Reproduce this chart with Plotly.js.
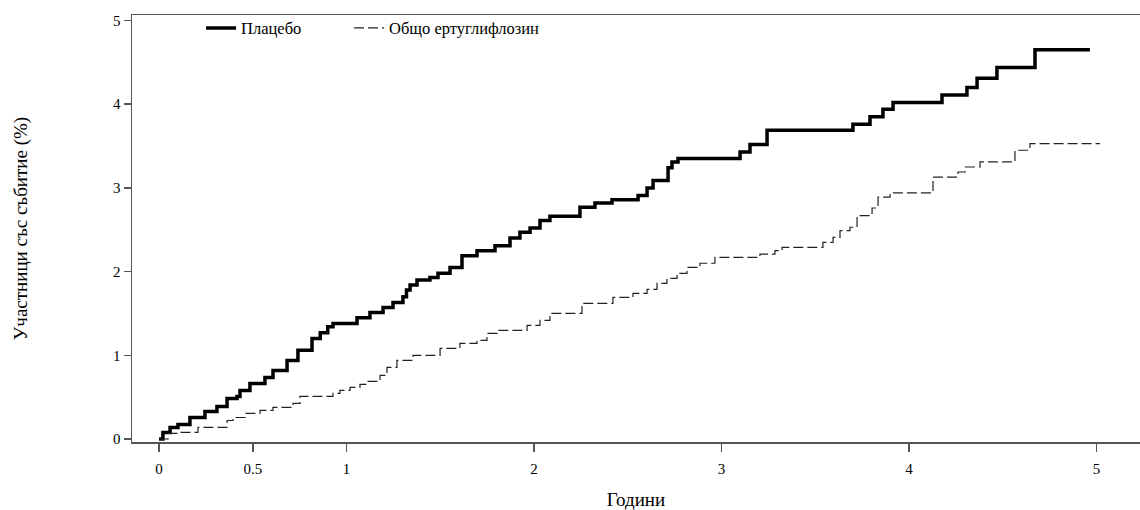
<!DOCTYPE html>
<html>
<head>
<meta charset="utf-8">
<script src="https://cdn.plot.ly/plotly-3.0.1.min.js"></script>
<style>html,body{margin:0;padding:0;background:#fff;}#chart{width:1140px;height:510px;}</style>
</head>
<body>
<div id="chart"></div>
<script>
// Placebo: step times (years) and cumulative % with event
var placeboT = [0, 0.021, 0.059, 0.101, 0.165, 0.245, 0.309, 0.363, 0.416, 0.432, 0.485, 0.565, 0.608, 0.683, 0.741, 0.816, 0.86, 0.90, 0.928, 1.056, 1.125, 1.195, 1.248, 1.301, 1.32, 1.339, 1.376, 1.445, 1.488, 1.552, 1.616, 1.696, 1.792, 1.872, 1.925, 1.979, 2.032, 2.085, 2.245, 2.325, 2.416, 2.555, 2.603, 2.635, 2.715, 2.736, 2.768, 3.099, 3.152, 3.243, 3.701, 3.792, 3.861, 3.915, 4.176, 4.309, 4.363, 4.469, 4.672, 4.965];
var placeboY = [0, 0.078, 0.138, 0.173, 0.257, 0.329, 0.389, 0.484, 0.508, 0.58, 0.664, 0.736, 0.819, 0.939, 1.059, 1.202, 1.27, 1.34, 1.38, 1.45, 1.51, 1.57, 1.63, 1.70, 1.78, 1.84, 1.90, 1.93, 1.98, 2.05, 2.19, 2.25, 2.31, 2.40, 2.47, 2.52, 2.61, 2.66, 2.77, 2.82, 2.86, 2.91, 3.00, 3.09, 3.24, 3.31, 3.35, 3.43, 3.52, 3.69, 3.76, 3.85, 3.94, 4.02, 4.11, 4.20, 4.31, 4.44, 4.65, 4.65];

// Total ertugliflozin
var ertT = [0, 0.048, 0.112, 0.208, 0.363, 0.395, 0.459, 0.539, 0.608, 0.715, 0.752, 0.928, 0.965, 1.019, 1.072, 1.115, 1.179, 1.216, 1.269, 1.355, 1.499, 1.605, 1.696, 1.749, 1.803, 1.963, 2.032, 2.085, 2.256, 2.421, 2.528, 2.603, 2.656, 2.709, 2.763, 2.816, 2.885, 2.965, 3.205, 3.285, 3.323, 3.541, 3.595, 3.632, 3.685, 3.723, 3.803, 3.835, 3.899, 4.128, 4.261, 4.299, 4.379, 4.565, 4.645, 5.019];
var ertY = [0, 0.066, 0.078, 0.138, 0.221, 0.257, 0.305, 0.341, 0.377, 0.425, 0.508, 0.544, 0.58, 0.616, 0.652, 0.688, 0.76, 0.855, 0.939, 0.999, 1.083, 1.142, 1.178, 1.262, 1.298, 1.358, 1.417, 1.501, 1.621, 1.693, 1.74, 1.788, 1.86, 1.92, 1.98, 2.05, 2.10, 2.17, 2.21, 2.25, 2.29, 2.35, 2.41, 2.49, 2.53, 2.67, 2.76, 2.89, 2.94, 3.13, 3.19, 3.25, 3.31, 3.45, 3.53, 3.53];

var seriesNames = ["Плацебо", "Общо ертуглифлозин"];
var xTickVals = [0, 0.5, 1, 2, 3, 4, 5];
var xTickText = ["0", "0.5", "1", "2", "3", "4", "5"];
var yTickVals = [0, 1, 2, 3, 4, 5];
var xTitle = "Години";
var yTitle = "Участници със събитие (%)";

var fontFam = "Liberation Serif, Times New Roman, serif";

var traces = [
  {x: placeboT, y: placeboY, type: "scatter", mode: "lines", name: seriesNames[0],
   legend: "legend",
   line: {shape: "hv", color: "#000000", width: 3.5}},
  {x: ertT, y: ertY, type: "scatter", mode: "lines", name: seriesNames[1],
   legend: "legend2",
   line: {shape: "hv", color: "#222222", width: 1.2, dash: "10px,4px"}}
];

var legendFont = {family: fontFam, size: 16.5, color: "#000"};

var layout = {
  width: 1140, height: 510,
  margin: {l: 132, r: 0, t: 15, b: 68},
  paper_bgcolor: "#ffffff", plot_bgcolor: "#ffffff",
  font: {family: fontFam, size: 15, color: "#000000"},
  showlegend: true,
  legend: {orientation: "h", x: 0.0685, y: 1.01, xanchor: "left", yanchor: "top",
           bgcolor: "rgba(0,0,0,0)", font: legendFont, itemclick: false},
  legend2: {orientation: "h", x: 0.2153, y: 1.01, xanchor: "left", yanchor: "top",
           bgcolor: "rgba(0,0,0,0)", font: legendFont, itemclick: false},
  xaxis: {
    range: [-0.144, 5.232], tickvals: xTickVals, ticktext: xTickText,
    showgrid: false, zeroline: false, showline: true, mirror: true,
    linecolor: "#555555", linewidth: 1.5,
    ticks: "outside", ticklen: 8, tickwidth: 1.5, tickcolor: "#555555",
    ticklabelstandoff: 4,
    tickfont: {family: fontFam, size: 15, color: "#000"},
    title: {text: xTitle, font: {family: fontFam, size: 19, color: "#000"}, standoff: 17},
    automargin: false
  },
  yaxis: {
    range: [-0.036, 5.066], tickvals: yTickVals,
    showgrid: false, zeroline: false, showline: true,
    linecolor: "#555555", linewidth: 1.5,
    ticks: "outside", ticklen: 7, tickwidth: 1.5, tickcolor: "#555555",
    tickfont: {family: fontFam, size: 15, color: "#000"},
    title: {text: yTitle, font: {family: fontFam, size: 19, color: "#000"}, standoff: 80},
    automargin: false
  }
};

Plotly.newPlot("chart", traces, layout, {staticPlot: true, displayModeBar: false});
</script>
</body>
</html>
